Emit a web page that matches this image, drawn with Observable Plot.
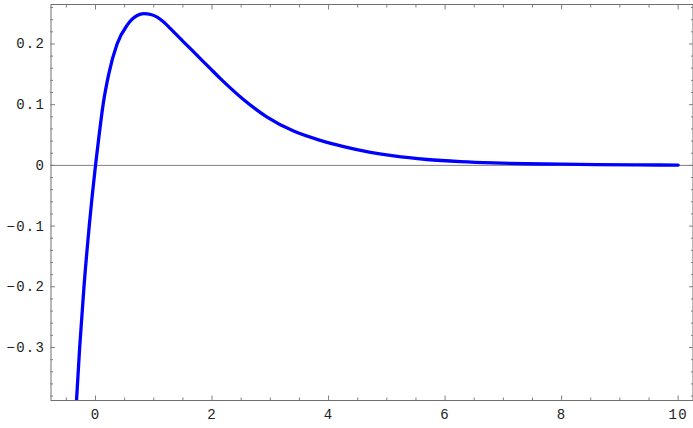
<!DOCTYPE html>
<html>
<head>
<meta charset="utf-8">
<script src="https://cdn.jsdelivr.net/npm/d3@7"></script>
<script src="https://cdn.jsdelivr.net/npm/@observablehq/plot@0.6"></script>
<style>
  html, body { margin: 0; padding: 0; background: #fff; }
</style>
</head>
<body>
<div id="chart"></div>
<script>
// Curve samples
const xValues = [-0.326, -0.272, -0.198, -0.108, 0, 0.062, 0.130, 0.226, 0.37, 0.544, 0.62, 0.715,
  0.829, 0.95, 1.058, 1.17, 1.286, 1.515, 1.744, 1.972, 2.144, 2.544, 2.945, 3.40, 3.86, 4.26,
  4.72, 5.12, 5.69, 6.26, 6.83, 7.40, 7.98, 8.6, 9.3, 10.0];
const yValues = [-0.387, -0.30, -0.20, -0.10, 0, 0.05, 0.10, 0.15, 0.20, 0.231, 0.240, 0.247,
  0.250, 0.2485, 0.2443, 0.236, 0.2252, 0.2031, 0.1812, 0.1593, 0.1430, 0.1082, 0.0796, 0.0565, 0.0412, 0.031,
  0.0215, 0.0155, 0.0097, 0.0062, 0.0040, 0.0027, 0.0019, 0.0013, 0.0008, 0.0005];

const xMajorTicks = [0, 2, 4, 6, 8, 10];
const xTickLabels = ["0", "2", "4", "6", "8", "10"];
const xMinorTicks = [-0.5, 0.5, 1, 1.5, 2.5, 3, 3.5, 4.5, 5, 5.5, 6.5, 7, 7.5, 8.5, 9, 9.5];
const yMajorTicks = [-0.3, -0.2, -0.1, 0, 0.1, 0.2];
const yTickLabels = ["\u22120.3", "\u22120.2", "\u22120.1", "0", "0.1", "0.2"];
const yMinorTicks = [-0.38, -0.36, -0.34, -0.32, -0.28, -0.26, -0.24, -0.22, -0.18, -0.16, -0.14, -0.12,
  -0.08, -0.06, -0.04, -0.02, 0.02, 0.04, 0.06, 0.08, 0.12, 0.14, 0.16, 0.18, 0.22, 0.24, 0.26];

const data = xValues.map((x, i) => ({x, y: yValues[i]}));
const xLabel = new Map(xMajorTicks.map((t, i) => [t, xTickLabels[i]]));
const yLabel = new Map(yMajorTicks.map((t, i) => [t, yTickLabels[i]]));

const tickColor = "#808080";
const font = "Liberation Mono, Courier New, monospace";

const tickAxes = [];
for (const anchor of ["bottom", "top"]) {
  tickAxes.push(Plot.axisX({anchor, ticks: xMajorTicks, tickSize: -4.5, stroke: tickColor, fill: "none", label: null}));
  tickAxes.push(Plot.axisX({anchor, ticks: xMinorTicks, tickSize: -2.5, stroke: tickColor, fill: "none", label: null}));
}
for (const anchor of ["left", "right"]) {
  tickAxes.push(Plot.axisY({anchor, ticks: yMajorTicks, tickSize: -4.5, stroke: tickColor, fill: "none", label: null}));
  tickAxes.push(Plot.axisY({anchor, ticks: yMinorTicks, tickSize: -2.5, stroke: tickColor, fill: "none", label: null}));
}

const chart = Plot.plot({
  width: 693,
  height: 428,
  marginLeft: 50.5,
  marginRight: 0.5,
  marginTop: 4,
  marginBottom: 28,
  style: {fontFamily: font, fontSize: "14px", letterSpacing: "1.2px", background: "#fff"},
  x: {domain: [-0.764, 10.255]},
  y: {domain: [-0.3873, 0.265]},
  marks: [
    Plot.ruleY([0], {stroke: tickColor, strokeWidth: 1}),
    ...tickAxes,
    Plot.axisX({anchor: "bottom", ticks: xMajorTicks, tickSize: 0, tickPadding: 9, tickFormat: d => xLabel.get(d), fill: "#222", label: null, fontSize: 14}),
    Plot.axisY({anchor: "left", ticks: yMajorTicks, tickSize: 0, tickPadding: 6, tickFormat: d => yLabel.get(d), fill: "#222", label: null, fontSize: 14}),
    Plot.frame({stroke: "#707070"}),
    Plot.line(data, {x: "x", y: "y", stroke: "#0000ff", strokeWidth: 3.3, curve: "monotone-x", clip: true})
  ]
});
document.getElementById("chart").appendChild(chart);
</script>
</body>
</html>
